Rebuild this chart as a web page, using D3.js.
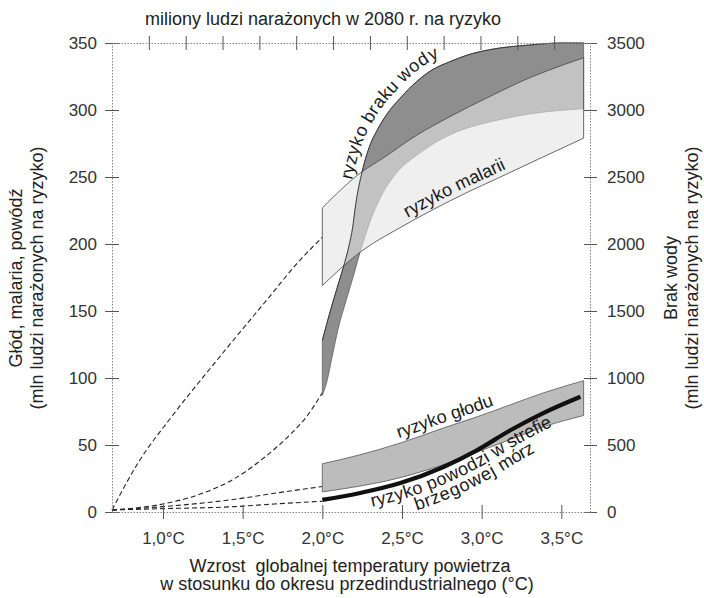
<!DOCTYPE html>
<html>
<head>
<meta charset="utf-8">
<script src="https://cdn.jsdelivr.net/npm/d3@7"></script>
<style>
  body { margin: 0; background: #fff; }
  svg { font-family: "Liberation Sans", Arial, sans-serif; }
  text { white-space: pre; }
  .axis .domain { stroke: #888; stroke-dasharray: 1.5 1.5; }
  .axis .tick line { stroke: #555; }
  .axis .tick text { fill: #333; font-size: 17px; }
</style>
</head>
<body>
<svg width="704" height="598"></svg>
<script>
// x = wzrost temperatury (°C), y = mln ludzi (lewa oś; prawa oś = x10)
const xTicks = [1.0, 1.5, 2.0, 2.5, 3.0, 3.5];
const xTickLabels = ['1,0°C', '1,5°C', '2,0°C', '2,5°C', '3,0°C', '3,5°C'];
const yLeftTicks = [0, 50, 100, 150, 200, 250, 300, 350];
const yRightTicks = [0, 500, 1000, 1500, 2000, 2500, 3000, 3500];
const topTicks = [1, 2, 3, 4, 5, 6, 7, 8, 9, 10, 11, 12];

// ryzyko braku wody (band edges)
const waterUpper = [[2.0, 128], [2.05, 150], [2.1, 170], [2.14, 186], [2.17, 200], [2.19, 212],
  [2.21, 230], [2.25, 254], [2.3, 274], [2.34, 284], [2.4, 296], [2.49, 309], [2.59, 321],
  [2.69, 330], [2.8, 336], [2.91, 341], [3.05, 345], [3.3, 348.5], [3.5, 350], [3.64, 350]];
const waterLower = [[2.0, 87], [2.03, 98], [2.06, 115], [2.1, 137], [2.15, 158], [2.19, 174],
  [2.25, 199], [2.31, 220], [2.38, 238], [2.48, 255], [2.59, 266], [2.7, 275], [2.85, 284],
  [3.05, 291], [3.3, 297], [3.64, 301]];
// ryzyko malarii
const malariaUpper = [[2.0, 227], [2.25, 254], [2.38, 264], [2.59, 281], [2.8, 295],
  [3.05, 310], [3.3, 324], [3.52, 334], [3.64, 339]];
const malariaLower = [[2.0, 169], [2.25, 195], [2.5, 213], [2.7, 226], [2.9, 238],
  [3.1, 249], [3.35, 263], [3.64, 279]];
// ryzyko głodu
const hungerUpper = [[2.0, 36], [2.23, 42.5], [2.49, 51.5], [2.76, 62.7], [2.97, 71],
  [3.18, 80], [3.39, 89], [3.64, 98]];
const hungerLower = [[2.0, 15], [2.5, 26], [2.8, 37], [3.0, 46], [3.2, 55], [3.4, 64], [3.64, 72]];
// ryzyko powodzi w strefie brzegowej mórz
const flood = [[2.0, 9], [2.23, 14], [2.49, 21.6], [2.76, 33.6], [2.97, 46], [3.18, 61],
  [3.39, 74], [3.62, 86]];

// dashed trends below 2°C
const malariaTrend = [[0.68, 1.5], [0.84, 36], [1.06, 72], [1.33, 112], [1.44, 128],
  [1.65, 158], [1.86, 188], [2.0, 205]];
const waterTrend = [[0.68, 1.5], [1.0, 6], [1.2, 12], [1.45, 25], [1.65, 42], [1.8, 58],
  [1.9, 71], [2.0, 89]];
const hungerTrend = [[0.68, 1.5], [1.0, 4], [1.45, 9.5], [1.7, 14], [2.0, 19]];
const floodTrend = [[0.68, 1.5], [1.0, 2.5], [1.45, 4], [1.7, 6], [2.0, 8]];

const svg = d3.select('svg');

const x = d3.scaleLinear().domain([0.68, 3.68]).range([112, 590]);
const y = d3.scaleLinear().domain([0, 350]).range([512, 43]);
const yR = d3.scaleLinear().domain([0, 3500]).range([512, 43]);
const xTop = d3.scaleLinear().domain([0, 13]).range([112, 591]);

const line = d3.line()
  .x(d => x(d[0]))
  .y(d => y(d[1]))
  .curve(d3.curveMonotoneX);

function band(upper, lower) {
  const back = line(lower.slice().reverse());
  return line(upper) + 'L' + back.slice(1) + 'Z';
}

// dashed trend lines
[malariaTrend, waterTrend, hungerTrend, floodTrend].forEach((d) => {
  svg.append('path')
    .attr('d', line(d))
    .attr('fill', 'none')
    .attr('stroke', '#222')
    .attr('stroke-width', 1.1)
    .attr('stroke-dasharray', '5 3');
});

// bands
svg.append('path')
  .attr('d', band(hungerUpper, hungerLower))
  .attr('fill', '#bcbcbc')
  .attr('stroke', '#555')
  .attr('stroke-width', 0.8);

svg.append('path')
  .attr('d', band(waterUpper, waterLower))
  .attr('fill', '#8e8e8e')
  .attr('stroke', '#555')
  .attr('stroke-width', 0.7);

svg.append('path')
  .attr('d', band(malariaUpper, malariaLower))
  .attr('fill', '#e4e4e4')
  .attr('fill-opacity', 0.6)
  .attr('stroke', '#444')
  .attr('stroke-width', 0.8);

svg.append('path')
  .attr('d', line(waterUpper))
  .attr('fill', 'none')
  .attr('stroke', '#333')
  .attr('stroke-width', 0.9);

svg.append('path')
  .attr('d', line(flood))
  .attr('fill', 'none')
  .attr('stroke', '#111')
  .attr('stroke-width', 4.2)
  .attr('stroke-linecap', 'butt');

// guide paths for curved labels
const defs = svg.append('defs');
const guides = {
  gWater: waterUpper, gMalaria: malariaLower, gHunger: hungerUpper, gFlood: flood,
};
Object.keys(guides).forEach((id) => {
  defs.append('path').attr('id', id).attr('d', line(guides[id]));
});

function offsetAt(id, t) {
  const node = document.getElementById(id);
  const target = x(t);
  let lo = 0;
  let hi = node.getTotalLength();
  for (let i = 0; i < 30; i++) {
    const mid = (lo + hi) / 2;
    if (node.getPointAtLength(mid).x < target) lo = mid; else hi = mid;
  }
  return lo;
}

function curvedLabel(id, t, dy, label) {
  svg.append('text')
    .attr('dy', dy)
    .attr('font-size', 18)
    .attr('fill', '#1a1a1a')
    .append('textPath')
    .attr('href', '#' + id)
    .attr('startOffset', offsetAt(id, t))
    .text(label);
}

curvedLabel('gWater', 2.235, -8, 'ryzyko braku wody');
curvedLabel('gMalaria', 2.55, -5, 'ryzyko malarii');
curvedLabel('gHunger', 2.49, -5, 'ryzyko głodu');
curvedLabel('gFlood', 2.29, 16, 'ryzyko powodzi w strefie');
curvedLabel('gFlood', 2.53, 31, 'brzegowej mórz');

// axes
const leftAxis = svg.append('g')
  .attr('class', 'axis')
  .attr('transform', 'translate(112,0)')
  .call(d3.axisLeft(y).tickValues(yLeftTicks).tickSize(7).tickSizeOuter(0).tickPadding(8));
leftAxis.selectAll('.tick line').attr('x1', 7);

const rightAxis = svg.append('g')
  .attr('class', 'axis')
  .attr('transform', 'translate(590,0)')
  .call(d3.axisRight(yR).tickValues(yRightTicks).tickFormat(d3.format('d'))
    .tickSize(7).tickSizeOuter(0).tickPadding(10));
rightAxis.selectAll('.tick line').attr('x1', -6);

const bottomAxis = svg.append('g')
  .attr('class', 'axis')
  .attr('transform', 'translate(0,512)')
  .call(d3.axisBottom(x).tickValues(xTicks)
    .tickFormat((d, i) => xTickLabels[i]).tickSize(7).tickSizeOuter(0).tickPadding(13));
bottomAxis.selectAll('.tick line').attr('y1', -7);

const topAxis = svg.append('g')
  .attr('class', 'axis')
  .attr('transform', 'translate(0,43)')
  .call(d3.axisTop(xTop).tickValues(topTicks).tickFormat('').tickSize(7).tickSizeOuter(0));
topAxis.selectAll('.tick line').attr('y1', 7);

svg.selectAll('.axis .domain').attr('stroke', '#888');

// titles
svg.append('text')
  .attr('x', 323).attr('y', 25)
  .attr('text-anchor', 'middle')
  .attr('font-size', 18)
  .attr('fill', '#222')
  .text('miliony ludzi narażonych w 2080 r. na ryzyko');

svg.append('text')
  .attr('x', 350).attr('y', 572)
  .attr('text-anchor', 'middle')
  .attr('font-size', 18)
  .attr('fill', '#222')
  .text('Wzrost  globalnej temperatury powietrza');

svg.append('text')
  .attr('x', 347).attr('y', 590)
  .attr('text-anchor', 'middle')
  .attr('font-size', 18)
  .attr('fill', '#222')
  .text('w stosunku do okresu przedindustrialnego (°C)');

function vTitle(cx, label) {
  svg.append('text')
    .attr('transform', `translate(${cx},278) rotate(-90)`)
    .attr('text-anchor', 'middle')
    .attr('dominant-baseline', 'central')
    .attr('font-size', 18)
    .attr('fill', '#222')
    .text(label);
}
vTitle(16, 'Głód, malaria, powódź');
vTitle(37, '(mln ludzi narażonych na ryzyko)');
vTitle(671, 'Brak wody');
vTitle(692, '(mln ludzi narażonych na ryzyko)');
</script>
</body>
</html>
